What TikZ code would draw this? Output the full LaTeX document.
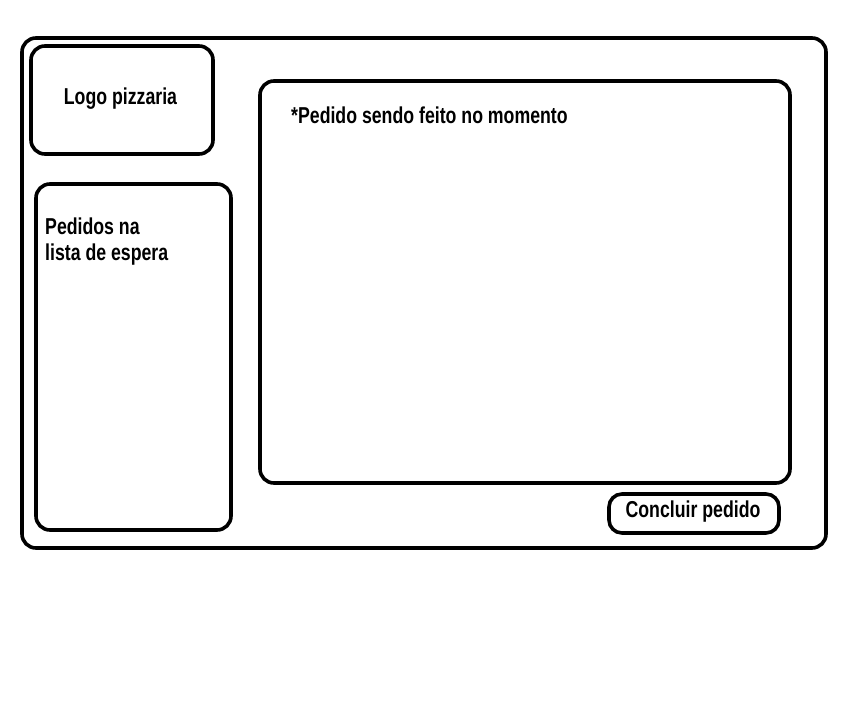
\documentclass[tikz,border=0pt]{standalone}
\usepackage{fontspec}
\newfontfamily\uifont{Liberation Sans}[FakeStretch=0.77]
\usetikzlibrary{positioning}

\begin{document}
\begin{tikzpicture}[%
    x=1pt, y=-1pt,
    box/.style={draw, line width=3.6pt, rounded corners=14pt, inner sep=0pt},
    every node/.style={font=\uifont\bfseries\fontsize{23}{25.5}\selectfont}
]
\useasboundingbox (0,0) rectangle (857,704);

% outer window
\node[box, minimum width=804pt, minimum height=510pt] (window) at (424,293) {};

% logo
\node[box, minimum width=182pt, minimum height=108pt] (logo) at (122,100) {};
\node[anchor=base, inner sep=0pt] (logotxt) at (120.5,104) {Logo pizzaria};

% waiting list
\node[box, minimum width=195pt, minimum height=346pt] (espera) at (133.5,357) {};
\node[anchor=base west, align=left, inner sep=0pt] (esperatxt) at (45,260)
    {Pedidos na\\lista de espera};

% current order
\node[box, minimum width=530pt, minimum height=402pt] (pedido) at (525,282) {};
\node[anchor=base west, inner sep=0pt] (pedidotxt) at (291,123)
    {*Pedido sendo feito no momento};

% button
\node[box, rounded corners=13pt, minimum width=170pt, minimum height=39pt] (concluir)
    at (694,513.5) {};
\node[anchor=base, inner sep=0pt] (concluirtxt) at (693,517) {Concluir pedido};

\end{tikzpicture}
\end{document}
